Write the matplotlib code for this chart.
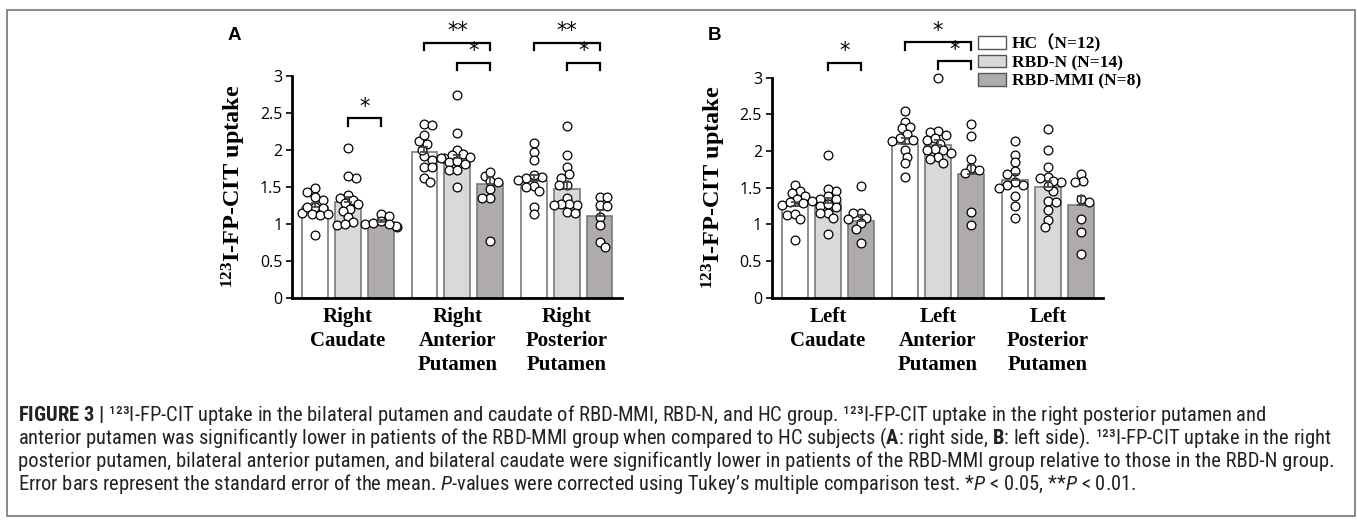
import numpy as np
import matplotlib
matplotlib.use('Agg')
import matplotlib.pyplot as plt
from matplotlib import font_manager
from matplotlib.patches import Rectangle, Patch
from matplotlib.font_manager import FontProperties

# ---------------- data ----------------
groups = ['HC（N=12)', 'RBD-N (N=14)', 'RBD-MMI (N=8)']
bar_colors = ['#ffffff', '#d9d9d9', '#afabab']

regions_A = ['Right\nCaudate', 'Right\nAnterior\nPutamen', 'Right\nPosterior\nPutamen']
regions_B = ['Left\nCaudate', 'Left\nAnterior\nPutamen', 'Left\nPosterior\nPutamen']

means_A = [[1.23, 1.29, 1.02], [1.97, 1.88, 1.53], [1.57, 1.47, 1.10]]
sem_A = [[0.05, 0.07, 0.03], [0.07, 0.05, 0.10], [0.08, 0.09, 0.09]]
means_B = [[1.25, 1.29, 1.05], [2.10, 2.08, 1.68], [1.60, 1.51, 1.26]]
sem_B = [[0.06, 0.07, 0.08], [0.07, 0.07, 0.13], [0.08, 0.08, 0.12]]

right_caudate = [
    [1.48, 1.32, 1.43, 1.36, 1.15, 1.22, 1.22, 1.21, 1.13, 1.12, 1.13, 0.84],
    [2.02, 1.61, 1.64, 1.38, 1.35, 1.32, 1.28, 1.26, 1.20, 1.17, 1.09, 1.02, 0.98, 1.00],
    [1.13, 1.10, 0.99, 0.95, 0.97, 1.00, 1.01, 1.03],
]
right_anterior_putamen = [
    [2.35, 2.33, 2.12, 2.19, 2.07, 1.91, 2.00, 1.86, 1.76, 1.76, 1.62, 1.56],
    [2.74, 2.23, 2.00, 1.94, 1.89, 1.92, 1.83, 1.85, 1.88, 1.90, 1.72, 1.73, 1.81, 1.50],
    [1.64, 1.70, 1.57, 1.56, 1.47, 1.35, 1.34, 0.77],
]
right_posterior_putamen = [
    [2.09, 1.97, 1.86, 1.63, 1.62, 1.65, 1.59, 1.51, 1.49, 1.44, 1.23, 1.13],
    [2.32, 1.92, 1.76, 1.67, 1.62, 1.52, 1.52, 1.35, 1.25, 1.26, 1.27, 1.25, 1.16, 1.15],
    [1.36, 1.36, 1.25, 1.24, 1.09, 0.98, 0.75, 0.69],
]
left_caudate = [
    [1.54, 1.46, 1.43, 1.38, 1.35, 1.26, 1.29, 1.30, 1.12, 1.14, 1.07, 0.79],
    [1.95, 1.45, 1.48, 1.38, 1.35, 1.35, 1.25, 1.23, 1.15, 1.15, 1.08, 0.87, 1.32, 1.28],
    [1.52, 1.15, 1.15, 1.09, 1.07, 1.02, 0.94, 0.75],
]
left_anterior_putamen = [
    [2.54, 2.40, 2.31, 2.32, 2.23, 2.18, 2.14, 2.15, 2.01, 1.92, 1.83, 1.64],
    [2.99, 2.27, 2.26, 2.22, 2.15, 2.18, 2.10, 2.01, 2.03, 2.01, 1.97, 1.92, 1.89, 1.84],
    [2.37, 2.20, 1.89, 1.77, 1.70, 1.74, 1.17, 0.99],
]
left_posterior_putamen = [
    [2.14, 1.95, 1.85, 1.72, 1.68, 1.54, 1.58, 1.54, 1.50, 1.38, 1.25, 1.09],
    [2.30, 2.01, 1.78, 1.65, 1.63, 1.57, 1.59, 1.46, 1.32, 1.30, 1.20, 1.06, 0.97, 1.52],
    [1.68, 1.59, 1.57, 1.31, 1.34, 1.07, 0.90, 0.60],
]
points_A = [right_caudate, right_anterior_putamen, right_posterior_putamen]
points_B = [left_caudate, left_anterior_putamen, left_posterior_putamen]

# significance: (region, group_i, group_j, bracket height, label)
sig_A = [(0, 1, 2, 2.42, '*'), (1, 0, 2, 3.44, '**'), (1, 1, 2, 3.17, '*'),
         (2, 0, 2, 3.44, '**'), (2, 1, 2, 3.17, '*')]
sig_B = [(0, 1, 2, 3.20, '*'), (1, 0, 2, 3.48, '*'), (1, 1, 2, 3.22, '*')]

yticks = [0, 0.5, 1, 1.5, 2, 2.5, 3]
ytick_labels = ['0', '0.5', '1', '1.5', '2', '2.5', '3']

# ---------------- fonts ----------------
installed = {f.name for f in font_manager.fontManager.ttflist}
capfont = 'Liberation Sans'
for cand in ['Liberation Sans Narrow', 'Roboto Condensed', 'DejaVu Sans Condensed']:
    if cand in installed:
        capfont = cand
        break
plt.rcParams['mathtext.fontset'] = 'custom'
plt.rcParams['mathtext.default'] = 'regular'
plt.rcParams['mathtext.rm'] = capfont
plt.rcParams['mathtext.bf'] = capfont + ':bold'
plt.rcParams['mathtext.it'] = capfont + ':italic'

SERIF = 'Liberation Serif'
TICKFONT = 'Open Sans'

W, H = 1357, 523
fig = plt.figure(figsize=(W / 100, H / 100), dpi=100)


def fx(px):
    return px / W


def fy(py):
    return 1 - py / H


offsets = [-0.30, 0.0, 0.30]
bar_w = 0.236


def draw_panel(ax, means, sems, points, regions, sigs):
    ax.set_xlim(-0.51, 2.505)
    ax.set_ylim(0, 3)
    for s in ['top', 'right']:
        ax.spines[s].set_visible(False)
    for s in ['left', 'bottom']:
        ax.spines[s].set_linewidth(2.0)
        ax.spines[s].set_color('black')
    ax.set_yticks(yticks)
    ax.set_yticklabels(ytick_labels, fontsize=11.5, family=TICKFONT)
    ax.tick_params(axis='y', direction='out', length=4, width=1.2, pad=3)
    ax.set_xticks(range(len(regions)))
    ax.set_xticklabels(regions, fontsize=15, fontweight='bold', family=SERIF,
                       linespacing=1.25, va='top')
    ax.tick_params(axis='x', length=0, pad=7)
    ax.set_ylabel(r'$^{123}$I-FP-CIT uptake', fontsize=17.5, fontweight='bold', family=SERIF)
    ax.yaxis.set_label_coords(-0.133, 0.5)

    fig.canvas.draw()
    diam = np.sqrt(40) * 100 / 72.0
    for r in range(len(regions)):
        for g in range(3):
            xc = r + offsets[g]
            ax.bar(xc, means[r][g], width=bar_w, color=bar_colors[g],
                   edgecolor='#7a7a7a', linewidth=1.2, zorder=1)
            vals = np.array(points[r][g])
            pix = ax.transData.transform(np.column_stack([np.full(len(vals), xc), vals]))
            xc_px = pix[0, 0]
            ys = pix[:, 1]
            placed = []
            xs_px = np.zeros(len(vals))
            step = diam * 0.3
            half_px = ax.transData.transform((bar_w / 2, 0))[0] - ax.transData.transform((0, 0))[0]
            for i in np.argsort(-vals, kind='stable'):
                chosen = None
                for k in range(0, 40):
                    signs = [1] if k == 0 else ([1, -1] if i % 2 else [-1, 1])
                    for sg in signs:
                        off = sg * k * step
                        if all((off - px) ** 2 + (ys[i] - py) ** 2 >= (0.78 * diam) ** 2
                               for px, py in placed):
                            chosen = off
                            break
                    if chosen is not None:
                        break
                lim = half_px * 1.25
                chosen = max(-lim, min(lim, chosen))
                xs_px[i] = xc_px + chosen
                placed.append((chosen, ys[i]))
            xs = ax.transData.inverted().transform(np.column_stack([xs_px, ys]))[:, 0]
            ax.scatter(xs, vals, s=40, facecolors='white', edgecolors='black',
                       linewidths=0.9, zorder=3, clip_on=False)
            ax.errorbar(xc, means[r][g], yerr=[[0], [sems[r][g]]], fmt='none',
                        ecolor='#404040', elinewidth=1.2, capsize=3, capthick=1.2, zorder=4)
    for (r, gi, gj, yb, lab) in sigs:
        x1 = r + offsets[gi]
        x2 = r + offsets[gj]
        ax.plot([x1, x1, x2, x2], [yb - 0.1, yb, yb, yb - 0.1], color='black',
                lw=1.6, clip_on=False, zorder=5, solid_joinstyle='miter')
        ax.text((x1 + x2) / 2, yb + 0.02, lab, ha='center', va='bottom',
                fontsize=15, family='DejaVu Sans', clip_on=False)


axA = fig.add_axes([fx(292), fy(297.7), (622 - 292) / W, (297.7 - 75.5) / H])
axB = fig.add_axes([fx(771.7), fy(297.7), (1103.3 - 771.7) / W, (297.7 - 77.5) / H])
draw_panel(axA, means_A, sem_A, points_A, regions_A, sig_A)
draw_panel(axB, means_B, sem_B, points_B, regions_B, sig_B)

# panel letters
fig.text(fx(228), fy(40), 'A', fontsize=13.5, fontweight='bold', family='Liberation Sans', va='baseline')
fig.text(fx(708), fy(40), 'B', fontsize=13.5, fontweight='bold', family='Liberation Sans', va='baseline')

# legend
handles = [Patch(facecolor=c, edgecolor='#555555', linewidth=1.0) for c in bar_colors]
leg = fig.legend(handles, groups, loc='upper left', bbox_to_anchor=(fx(978), fy(34)),
                 frameon=False, borderpad=0, borderaxespad=0, handlelength=1.6,
                 handleheight=0.75, labelspacing=0.12, handletextpad=0.35,
                 prop=FontProperties(family=[SERIF, 'Noto Sans CJK SC'], weight='bold', size=12.5))

# caption
cap_lines = [
    r"$\mathbf{FIGURE\ 3\ |}$ ¹²³I-FP-CIT uptake in the bilateral putamen and caudate of RBD-MMI, RBD-N, and HC group. ¹²³I-FP-CIT uptake in the right posterior putamen and",
    r"anterior putamen was significantly lower in patients of the RBD-MMI group when compared to HC subjects ($\mathbf{A}$: right side, $\mathbf{B}$: left side). ¹²³I-FP-CIT uptake in the right",
    r"posterior putamen, bilateral anterior putamen, and bilateral caudate were significantly lower in patients of the RBD-MMI group relative to those in the RBD-N group.",
    r"Error bars represent the standard error of the mean. $\mathit{P}$-values were corrected using Tukey’s multiple comparison test. *$\mathit{P}$ < 0.05, **$\mathit{P}$ < 0.01.",
]
cap_y = [421, 444, 467, 490]
cap_texts = [fig.text(fx(18), fy(y), s, fontsize=10, family=capfont, va='baseline', color='#222222')
             for s, y in zip(cap_lines, cap_y)]
fig.canvas.draw()
r = fig.canvas.get_renderer()
wbox = cap_texts[1].get_window_extent(r).width
scale = (1334 - 18) / wbox
for t in cap_texts:
    t.set_fontsize(10 * scale)

# frame
fig.patches.append(Rectangle((fx(7), fy(516)), (1355 - 7) / W, (516 - 10) / H,
                             transform=fig.transFigure, fill=False, edgecolor='#808080', lw=1.3))

fig.savefig('out.png', dpi=100)
